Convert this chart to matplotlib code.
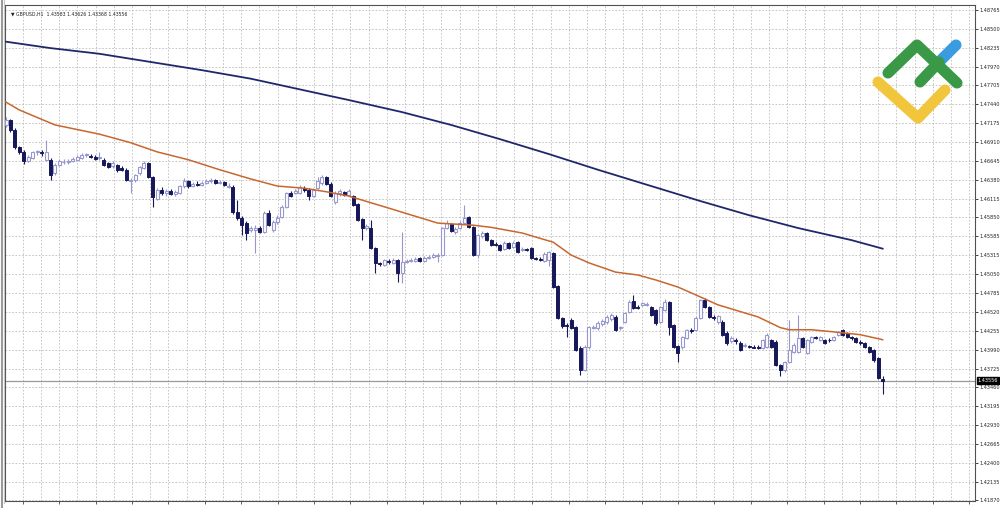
import matplotlib
matplotlib.use("Agg")
import matplotlib.pyplot as plt
from matplotlib import font_manager
import numpy as np

# ---------------- data (GBPUSD, H1) ----------------
opens = [
    1.4715, 1.4722, 1.4708, 1.4684, 1.4677, 1.4664, 1.4669, 1.4677, 1.4677, 1.4666,
    1.4666, 1.4647, 1.4659, 1.4663, 1.4663, 1.4664, 1.4666, 1.4669, 1.4673, 1.4671,
    1.4670, 1.4669, 1.4666, 1.4661, 1.4657, 1.4659, 1.4654, 1.4652, 1.4636, 1.4638,
    1.4647, 1.4654, 1.4661, 1.4642, 1.4611, 1.4623, 1.4619, 1.4622, 1.4618, 1.4619,
    1.4629, 1.4636, 1.4629, 1.4632, 1.4631, 1.4633, 1.4636, 1.4638, 1.4633, 1.4635,
    1.4628, 1.4628, 1.4593, 1.4584, 1.4577, 1.4567, 1.4567, 1.4570, 1.4564, 1.4591,
    1.4567, 1.4578, 1.4586, 1.4600, 1.4619, 1.4619, 1.4619, 1.4626, 1.4623, 1.4615,
    1.4626, 1.4633, 1.4642, 1.4632, 1.4607, 1.4619, 1.4621, 1.4617, 1.4615, 1.4604,
    1.4583, 1.4570, 1.4570, 1.4542, 1.4521, 1.4518, 1.4524, 1.4521, 1.4525, 1.4507,
    1.4522, 1.4524, 1.4524, 1.4528, 1.4524, 1.4528, 1.4529, 1.4531, 1.4532, 1.4570,
    1.4576, 1.4564, 1.4570, 1.4577, 1.4586, 1.4571, 1.4532, 1.4559, 1.4563, 1.4553,
    1.4547, 1.4546, 1.4541, 1.4549, 1.4543, 1.4550, 1.4539, 1.4541, 1.4542, 1.4528,
    1.4526, 1.4524, 1.4525, 1.4535, 1.4489, 1.4443, 1.4433, 1.4441, 1.4431, 1.4401,
    1.4370, 1.4403, 1.4430, 1.4430, 1.4435, 1.4438, 1.4442, 1.4445, 1.4430, 1.4438,
    1.4452, 1.4467, 1.4459, 1.4462, 1.4462, 1.4459, 1.4455, 1.4438, 1.4455, 1.4466,
    1.4434, 1.4404, 1.4403, 1.4415, 1.4427, 1.4427, 1.4443, 1.4469, 1.4459, 1.4445,
    1.4438, 1.4438, 1.4422, 1.4411, 1.4413, 1.4409, 1.4404, 1.4404, 1.4403, 1.4403,
    1.4401, 1.4403, 1.4413, 1.4410, 1.4377, 1.4370, 1.4382, 1.4396, 1.4396, 1.4415,
    1.4394, 1.4410, 1.4417, 1.4413, 1.4413, 1.4413, 1.4413, 1.4420, 1.4427, 1.4422,
    1.4417, 1.4415, 1.4410, 1.4409, 1.4403, 1.4398, 1.4387, 1.43583,
]
highs = [
    1.4726, 1.4723, 1.4711, 1.4685, 1.4680, 1.4673, 1.4678, 1.4680, 1.4680, 1.4694,
    1.4669, 1.4661, 1.4667, 1.4667, 1.4667, 1.4670, 1.4673, 1.4676, 1.4676, 1.4674,
    1.4673, 1.4677, 1.4669, 1.4663, 1.4664, 1.4660, 1.4657, 1.4654, 1.4640, 1.4646,
    1.4657, 1.4664, 1.4663, 1.4643, 1.4626, 1.4628, 1.4625, 1.4625, 1.4623, 1.4631,
    1.4640, 1.4638, 1.4635, 1.4636, 1.4636, 1.4639, 1.4640, 1.4639, 1.4638, 1.4636,
    1.4633, 1.4631, 1.4609, 1.4587, 1.4580, 1.4573, 1.4574, 1.4573, 1.4594, 1.4595,
    1.4581, 1.4588, 1.4602, 1.4621, 1.4622, 1.4625, 1.4631, 1.4629, 1.4626, 1.4626,
    1.4642, 1.4645, 1.4643, 1.4635, 1.4622, 1.4625, 1.4622, 1.4625, 1.4617, 1.4605,
    1.4584, 1.4576, 1.4581, 1.4543, 1.4522, 1.4526, 1.4526, 1.4528, 1.4526, 1.4564,
    1.4526, 1.4528, 1.4529, 1.4529, 1.4531, 1.4532, 1.4535, 1.4535, 1.4571, 1.4581,
    1.4577, 1.4571, 1.4580, 1.4602, 1.4587, 1.4573, 1.4562, 1.4566, 1.4564, 1.4555,
    1.4550, 1.4547, 1.4552, 1.4550, 1.4552, 1.4552, 1.4543, 1.4542, 1.4543, 1.4529,
    1.4529, 1.4536, 1.4538, 1.4536, 1.4490, 1.4445, 1.4436, 1.4443, 1.4432, 1.4404,
    1.4405, 1.4432, 1.4434, 1.4439, 1.4442, 1.4448, 1.4451, 1.4448, 1.4432, 1.4452,
    1.4469, 1.4476, 1.4462, 1.4466, 1.4466, 1.4460, 1.4456, 1.4460, 1.4470, 1.4467,
    1.4435, 1.4406, 1.4418, 1.4428, 1.4430, 1.4446, 1.4470, 1.4472, 1.4460, 1.4448,
    1.4448, 1.4441, 1.4425, 1.4418, 1.4415, 1.4411, 1.4409, 1.4406, 1.4406, 1.4406,
    1.4414, 1.4422, 1.4414, 1.4412, 1.4379, 1.4383, 1.4441, 1.4409, 1.4448, 1.4417,
    1.4414, 1.4418, 1.4418, 1.4418, 1.4414, 1.4415, 1.4418, 1.4425, 1.4428, 1.4424,
    1.4418, 1.4417, 1.4412, 1.4410, 1.4404, 1.4400, 1.4388, 1.43626,
]
lows = [
    1.4712, 1.4705, 1.4681, 1.4674, 1.4660, 1.4663, 1.4667, 1.4673, 1.4671, 1.4664,
    1.4638, 1.4645, 1.4657, 1.4660, 1.4660, 1.4663, 1.4664, 1.4667, 1.4670, 1.4669,
    1.4666, 1.4666, 1.4657, 1.4654, 1.4654, 1.4649, 1.4650, 1.4636, 1.4619, 1.4635,
    1.4645, 1.4653, 1.4640, 1.4600, 1.4609, 1.4617, 1.4615, 1.4617, 1.4615, 1.4618,
    1.4626, 1.4626, 1.4628, 1.4629, 1.4629, 1.4632, 1.4633, 1.4632, 1.4632, 1.4629,
    1.4626, 1.4590, 1.4581, 1.4560, 1.4553, 1.4564, 1.4535, 1.4563, 1.4563, 1.4573,
    1.4564, 1.4576, 1.4584, 1.4598, 1.4614, 1.4618, 1.4618, 1.4621, 1.4609, 1.4614,
    1.4625, 1.4631, 1.4631, 1.4614, 1.4604, 1.4615, 1.4615, 1.4615, 1.4601, 1.4580,
    1.4553, 1.4567, 1.4541, 1.4507, 1.4517, 1.4517, 1.4519, 1.4519, 1.4494, 1.4493,
    1.4521, 1.4522, 1.4522, 1.4522, 1.4522, 1.4526, 1.4528, 1.4522, 1.4531, 1.4569,
    1.4564, 1.4561, 1.4569, 1.4576, 1.4570, 1.4531, 1.4528, 1.4556, 1.4552, 1.4545,
    1.4545, 1.4538, 1.4539, 1.4541, 1.4542, 1.4535, 1.4538, 1.4538, 1.4526, 1.4525,
    1.4524, 1.4522, 1.4517, 1.4486, 1.4442, 1.4430, 1.4417, 1.4428, 1.4397, 1.4363,
    1.4369, 1.4400, 1.4428, 1.4427, 1.4432, 1.4435, 1.4439, 1.4425, 1.4427, 1.4436,
    1.4451, 1.4456, 1.4456, 1.4460, 1.4460, 1.4446, 1.4434, 1.4436, 1.4453, 1.4420,
    1.4401, 1.4382, 1.4400, 1.4414, 1.4423, 1.4425, 1.4442, 1.4458, 1.4443, 1.4441,
    1.4435, 1.4418, 1.4406, 1.4409, 1.4407, 1.4397, 1.4403, 1.4401, 1.4401, 1.4400,
    1.4400, 1.4401, 1.4401, 1.4376, 1.4362, 1.4368, 1.4380, 1.4394, 1.4394, 1.4401,
    1.4393, 1.4409, 1.4414, 1.4411, 1.4407, 1.4410, 1.4411, 1.4418, 1.4418, 1.4415,
    1.4413, 1.4409, 1.4406, 1.4401, 1.4394, 1.4382, 1.4358, 1.43368,
]
closes = [
    1.4722, 1.4708, 1.4684, 1.4677, 1.4664, 1.4670, 1.4677, 1.4678, 1.4676, 1.4677,
    1.4645, 1.4659, 1.4664, 1.4663, 1.4664, 1.4667, 1.4670, 1.4673, 1.4674, 1.4670,
    1.4667, 1.4670, 1.4659, 1.4656, 1.4661, 1.4652, 1.4652, 1.4638, 1.4638, 1.4645,
    1.4656, 1.4661, 1.4642, 1.4614, 1.4623, 1.4619, 1.4622, 1.4618, 1.4621, 1.4629,
    1.4636, 1.4629, 1.4632, 1.4631, 1.4633, 1.4636, 1.4638, 1.4633, 1.4635, 1.4631,
    1.4629, 1.4593, 1.4584, 1.4574, 1.4563, 1.4570, 1.4570, 1.4564, 1.4591, 1.4574,
    1.4578, 1.4584, 1.4600, 1.4619, 1.4615, 1.4622, 1.4628, 1.4623, 1.4615, 1.4623,
    1.4636, 1.4642, 1.4632, 1.4615, 1.4619, 1.4622, 1.4617, 1.4622, 1.4602, 1.4581,
    1.4570, 1.4573, 1.4542, 1.4521, 1.4519, 1.4525, 1.4522, 1.4525, 1.4507, 1.4522,
    1.4524, 1.4525, 1.4526, 1.4524, 1.4528, 1.4529, 1.4532, 1.4532, 1.4570, 1.4577,
    1.4566, 1.4569, 1.4577, 1.4584, 1.4571, 1.4532, 1.4560, 1.4563, 1.4553, 1.4546,
    1.4546, 1.4539, 1.4549, 1.4542, 1.4549, 1.4536, 1.4541, 1.4539, 1.4528, 1.4526,
    1.4525, 1.4533, 1.4536, 1.4487, 1.4443, 1.4432, 1.4432, 1.4430, 1.4398, 1.4370,
    1.4403, 1.4431, 1.4431, 1.4436, 1.4439, 1.4445, 1.4448, 1.4427, 1.4431, 1.4451,
    1.4466, 1.4458, 1.4458, 1.4465, 1.4463, 1.4448, 1.4436, 1.4459, 1.4466, 1.4431,
    1.4403, 1.4394, 1.4417, 1.4427, 1.4425, 1.4443, 1.4469, 1.4459, 1.4445, 1.4443,
    1.4446, 1.4419, 1.4409, 1.4415, 1.4411, 1.4398, 1.4406, 1.4403, 1.4402, 1.4401,
    1.4413, 1.4419, 1.4403, 1.4377, 1.4370, 1.4382, 1.4398, 1.4406, 1.4415, 1.4403,
    1.4413, 1.4417, 1.4415, 1.4417, 1.4409, 1.4412, 1.4417, 1.4424, 1.4420, 1.4417,
    1.4415, 1.4410, 1.4409, 1.4403, 1.4396, 1.4384, 1.4359, 1.43556,
]

# moving averages (bar index, value)
ma_slow_idx = [0, 10, 21, 32, 44, 55, 66, 77, 89, 100, 111, 122, 133, 145, 156, 167, 178, 190, 197]
ma_slow = [1.4832, 1.4823, 1.4815, 1.4804, 1.4792, 1.4780, 1.4765, 1.4750, 1.4733, 1.4715,
           1.4695, 1.4674, 1.4652, 1.4629, 1.4608, 1.4588, 1.4570, 1.4553, 1.4541]
ma_fast_idx = [0, 3, 11, 21, 28, 34, 41, 48, 55, 61, 67, 72, 77, 86, 97, 105, 109, 116, 123, 127,
               131, 137, 142, 146, 151, 155, 160, 169, 174, 176, 181, 186, 192, 197]
ma_fast = [1.4747, 1.4736, 1.4715, 1.4702, 1.4690, 1.4677, 1.4666, 1.4652, 1.4639, 1.4629,
           1.4626, 1.4621, 1.4615, 1.4598, 1.4577, 1.4574, 1.4571, 1.4563, 1.4550, 1.4532,
           1.4521, 1.4508, 1.4504, 1.4497, 1.4487, 1.4476, 1.4462, 1.4445, 1.4430, 1.4427,
           1.4427, 1.4424, 1.4420, 1.4413]

ytick_values = [1.48765, 1.48500, 1.48235, 1.47970, 1.47705, 1.47440, 1.47175, 1.46910,
                1.46645, 1.46380, 1.46115, 1.45850, 1.45585, 1.45315, 1.45050, 1.44785,
                1.44520, 1.44255, 1.43990, 1.43725, 1.43460, 1.43195, 1.42930, 1.42665,
                1.42400, 1.42135, 1.41870]
header_text = "\u25bc GBPUSD,H1  1.43583 1.43626 1.43368 1.43556"
bid_price = 1.43556

# ---------------- fonts ----------------
installed = {f.name for f in font_manager.fontManager.ttflist}
if "Liberation Sans Narrow" in installed:
    small_font = ["Liberation Sans Narrow", "DejaVu Sans"]
    tick_fs, head_fs = 4.8, 4.4
else:
    small_font = ["DejaVu Sans"]
    tick_fs, head_fs = 3.6, 3.3

# ---------------- figure ----------------
W, H = 1000, 508
fig = plt.figure(figsize=(W / 100, H / 100), dpi=100)
fig.patch.set_facecolor("white")
ax = fig.add_axes([5 / W, 1 - 501 / H, 970 / W, 496 / H])

n = len(closes)
x = np.arange(n)
o = np.array(opens); h = np.array(highs); l = np.array(lows); c = np.array(closes)

step_px, x0_px = 4.45, 6.0
ax.set_xlim((5 - x0_px) / step_px, (975 - x0_px) / step_px)
ax.set_ylim(1.41862, 1.48836)

bull_col = "#9698cf"
bear_col = "#16185a"
bull = c >= o
bear = ~bull
bw = 3.0 / step_px

ax.vlines(x[bull], l[bull], h[bull], color=bull_col, lw=0.8, zorder=3)
ax.vlines(x[bear], l[bear], h[bear], color=bear_col, lw=0.8, zorder=3)
ax.bar(x[bull], np.maximum(c[bull] - o[bull], 0.00003), bottom=o[bull], width=bw,
       facecolor="white", edgecolor=bull_col, linewidth=0.8, zorder=4)
ax.bar(x[bear], np.minimum(c[bear] - o[bear], -0.00003), bottom=o[bear], width=bw,
       facecolor=bear_col, edgecolor=bear_col, linewidth=0.7, zorder=4)

ax.plot(ma_slow_idx, ma_slow, color="#1f276b", lw=1.3, zorder=5)
ax.plot(ma_fast_idx, ma_fast, color="#c8662e", lw=1.1, zorder=5)

# grid
grid_kw = dict(color="#bdbdbd", lw=0.6, linestyle=(0, (2, 2)), zorder=1)
for v in ytick_values:
    ax.axhline(v, **grid_kw)
gx = np.arange(22.8, 975, 18.2)
gxd = (gx - x0_px) / step_px
for v in gxd:
    ax.axvline(v, **grid_kw)

# bid line
ax.axhline(bid_price, color="#9a9a9a", lw=0.9, zorder=2)

# axes styling
ax.yaxis.tick_right()
ax.set_yticks(ytick_values)
ax.set_yticklabels([f"{v:.5f}" for v in ytick_values], fontsize=tick_fs, family=small_font)
ax.tick_params(axis="y", length=2.0, width=0.6, pad=1.2, colors="#222222")
ax.set_xticks(gxd[::2])
ax.set_xticklabels([])
ax.tick_params(axis="x", length=2, width=0.6, colors="#444444")
for s in ax.spines.values():
    s.set_color("#505050")
    s.set_linewidth(0.8)

ax.text(1.003, bid_price, f"{bid_price:.5f}", transform=ax.get_yaxis_transform(),
        fontsize=tick_fs, family=small_font, color="white", va="center", ha="left", zorder=10,
        bbox=dict(facecolor="black", edgecolor="black", pad=0.6), clip_on=False)

ax.text(0.006, 0.987, header_text, transform=ax.transAxes, fontsize=head_fs,
        family=small_font, va="top", ha="left", color="#222222")

# overlay for logo & frame
ov = fig.add_axes([0, 0, 1, 1])
ov.set_xlim(0, W)
ov.set_ylim(H, 0)
ov.axis("off")
ov.patch.set_alpha(0)
lw_logo = 8.0
ov.plot([878, 918, 945], [82, 118, 90], color="#f2c63c", lw=lw_logo,
        solid_capstyle="round", solid_joinstyle="round")
ov.plot([938, 956], [63, 45], color="#3b9be0", lw=lw_logo, solid_capstyle="round")
ov.plot([888, 917, 957], [73, 45, 83], color="#3a9947", lw=lw_logo,
        solid_capstyle="round", solid_joinstyle="round")
ov.plot([920, 939], [82, 62], color="#3a9947", lw=lw_logo, solid_capstyle="round")
ov.plot([1.5, 1.5], [0, H], color="#9a9a9a", lw=1.5)
ov.plot([3.8, 3.8], [0, 503], color="#c8c8c8", lw=0.8)

fig.savefig("out.png", dpi=100, facecolor="white")
